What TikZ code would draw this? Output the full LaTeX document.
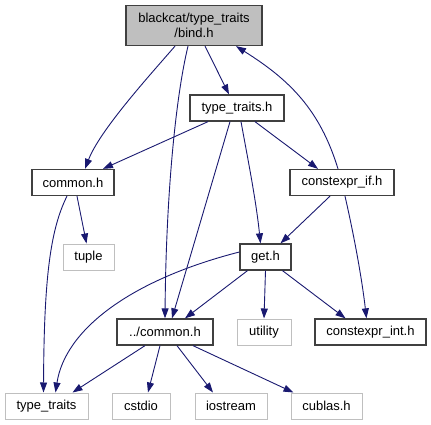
\documentclass[tikz,border=0pt]{standalone}
\usepackage{fontspec}
\setmainfont{Liberation Sans}
\usetikzlibrary{arrows.meta}
\definecolor{edgeblue}{HTML}{191970}
\definecolor{boxgray}{HTML}{BFBFBF}
\definecolor{boxline}{HTML}{404040}
\begin{document}
\begin{tikzpicture}[x=1pt,y=-1pt,
  every node/.style={font=\fontsize{13}{15}\selectfont, inner sep=0pt, minimum height=26pt, align=center},
  hdr/.style={draw=boxline, line width=1.3pt, fill=white},
  sys/.style={draw=boxgray, line width=1pt, fill=white},
  edge/.style={draw=edgeblue, line width=0.9pt, -{Triangle[length=10pt,width=7pt]}}]
\useasboundingbox (0,0) rectangle (431,425);
\node[hdr, fill=boxgray, minimum width=136pt, minimum height=40pt] (bind) at (194,25.5) {blackcat/type\_traits\\/bind.h};
\node[hdr, minimum width=94pt] (tth) at (237,108) {type\_traits.h};
\node[hdr, minimum width=82pt] (common) at (73,182.5) {common.h};
\node[hdr, minimum width=104pt] (cif) at (342,182.5) {constexpr\_if.h};
\node[sys, minimum width=51pt] (tuple) at (88.5,257) {tuple};
\node[hdr, minimum width=51pt] (get) at (265.5,257) {get.h};
\node[hdr, minimum width=96pt] (dcommon) at (165,332) {../common.h};
\node[sys, minimum width=54pt] (utility) at (264,332) {utility};
\node[hdr, minimum width=111pt] (cint) at (370.5,332) {constexpr\_int.h};
\node[sys, minimum width=83pt] (tt) at (46.5,406) {type\_traits};
\node[sys, minimum width=58pt] (cstdio) at (141,406) {cstdio};
\node[sys, minimum width=72pt] (iostream) at (231,406) {iostream};
\node[sys, minimum width=71pt] (cublas) at (326.5,406) {cublas.h};

% bind.h edges
\draw[edge] ([xshift=-19pt]bind.south) .. controls (150,75) and (100,130) .. ([xshift=12pt]common.north);
\draw[edge] ([xshift=-6pt]bind.south) .. controls (175,100) and (166,200) .. (dcommon.north);
\draw[edge] ([xshift=11pt]bind.south) -- ([xshift=-8pt]tth.north);
\draw[edge] ([xshift=-4pt]cif.north) .. controls (320,110) and (290,80) .. ([xshift=42pt]bind.south);
% type_traits.h edges
\draw[edge] ([xshift=-29pt]tth.south) -- ([xshift=30pt]common.north);
\draw[edge] ([xshift=-7pt]tth.south) -- ([xshift=7pt]dcommon.north);
\draw[edge] ([xshift=4pt]tth.south) .. controls (248,160) and (256,200) .. ([xshift=-5pt]get.north);
\draw[edge] ([xshift=18pt]tth.south) -- ([xshift=-24pt]cif.north);
% common.h edges
\draw[edge] ([xshift=4pt]common.south) -- ([xshift=-2pt]tuple.north);
\draw[edge] ([xshift=-6pt]common.south) .. controls (50,230) and (44,280) .. ([xshift=-3pt]tt.north);
% constexpr_if.h edges
\draw[edge] ([xshift=-12pt]cif.south) -- ([xshift=15pt]get.north);
\draw[edge] ([xshift=3pt]cif.south) .. controls (355,240) and (362,280) .. ([xshift=-4pt]cint.north);
% get.h edges
\draw[edge] ([yshift=5pt]get.west) .. controls (130,280) and (65,330) .. ([xshift=9pt]tt.north);
\draw[edge] ([xshift=-18pt]get.south) -- ([xshift=20pt]dcommon.north);
\draw[edge] (get.south) -- (utility.north);
\draw[edge] ([xshift=17pt]get.south) -- ([xshift=-25pt]cint.north);
% ../common.h edges
\draw[edge] ([xshift=-20pt]dcommon.south) -- ([xshift=26pt]tt.north);
\draw[edge] ([xshift=-5pt]dcommon.south) -- ([xshift=7pt]cstdio.north);
\draw[edge] ([xshift=12pt]dcommon.south) -- ([xshift=-18pt]iostream.north);
\draw[edge] ([xshift=28pt]dcommon.south) -- ([xshift=-33pt]cublas.north);
\end{tikzpicture}
\end{document}
